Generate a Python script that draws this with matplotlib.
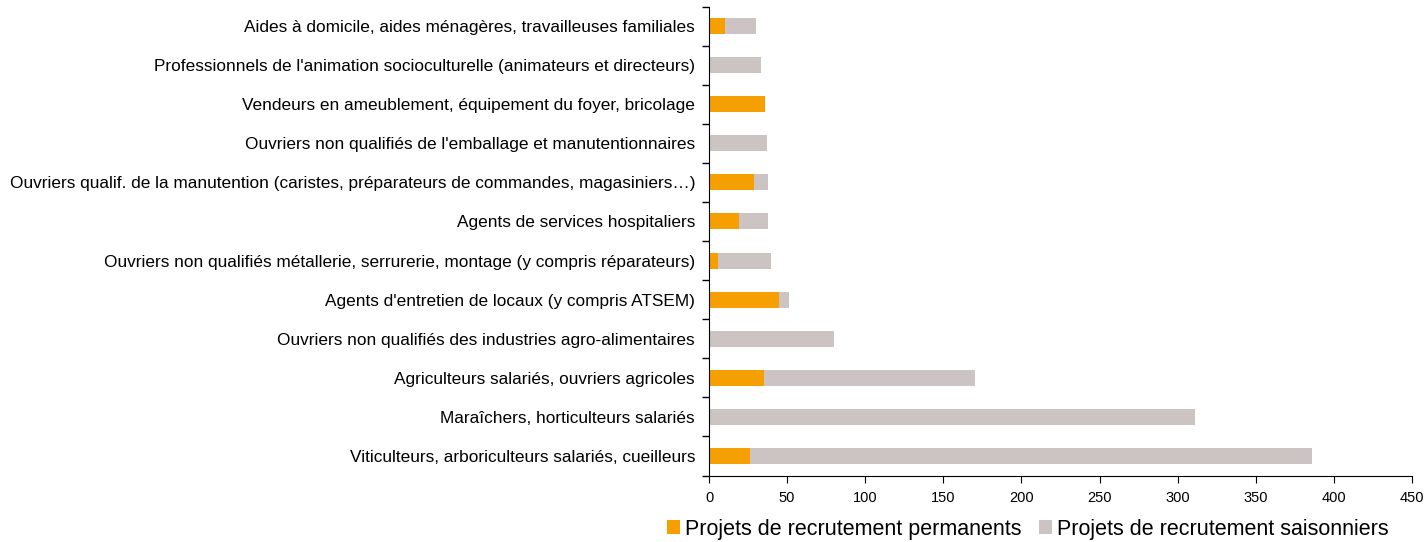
import matplotlib
matplotlib.use("Agg")
import matplotlib.pyplot as plt
import numpy as np

plt.rcParams['font.family'] = ['Liberation Sans', 'DejaVu Sans']

categories = [
    "Viticulteurs, arboriculteurs salariés, cueilleurs",
    "Maraîchers, horticulteurs salariés",
    "Agriculteurs salariés, ouvriers agricoles",
    "Ouvriers non qualifiés des industries agro-alimentaires",
    "Agents d'entretien de locaux (y compris ATSEM)",
    "Ouvriers non qualifiés métallerie, serrurerie, montage (y compris réparateurs)",
    "Agents de services hospitaliers",
    "Ouvriers qualif. de la manutention (caristes, préparateurs de commandes, magasiniers…)",
    "Ouvriers non qualifiés de l'emballage et manutentionnaires",
    "Vendeurs en ameublement, équipement du foyer, bricolage",
    "Professionnels de l'animation socioculturelle (animateurs et directeurs)",
    "Aides à domicile, aides ménagères, travailleuses familiales",
]
permanents = [26, 0, 35, 0, 45, 6, 19, 29, 0, 36, 0, 10]
saisonniers = [360, 311, 135, 80, 6, 34, 19, 9, 37, 0, 33, 20]
xticks = [0, 50, 100, 150, 200, 250, 300, 350, 400, 450]

c_perm = "#F5A000"
c_sais = "#CCC3C3"

fig = plt.figure(figsize=(14.27, 5.42), dpi=100)
ax = fig.add_axes([709/1427, 1 - 475.5/542, (1412-709)/1427, (475.5-6.5)/542])

y = np.arange(len(categories))
h = 0.41
ax.barh(y, permanents, height=h, color=c_perm, label="Projets de recrutement permanents")
ax.barh(y, saisonniers, left=permanents, height=h, color=c_sais, label="Projets de recrutement saisonniers")

ax.set_ylim(-0.5, len(categories) - 0.5)
ax.set_xlim(0, 450)
ax.set_xticks(xticks)
ax.set_xticklabels([str(v) for v in xticks], fontsize=10.5)
ax.set_yticks(y)
ax.set_yticklabels(categories, fontsize=12.4)
ax.set_yticks(np.arange(-0.5, len(categories), 1), minor=True)
ax.tick_params(axis='y', which='major', length=0, pad=10)
ax.tick_params(axis='y', which='minor', length=5, direction='out', width=1)
ax.tick_params(axis='x', which='major', length=5, direction='out', pad=6)

for s in ['top', 'right']:
    ax.spines[s].set_visible(False)
ax.spines['left'].set_color('black')
ax.spines['bottom'].set_color('black')

fig.legend(loc='lower center', bbox_to_anchor=(1028/1427, -0.012), ncol=2, frameon=False,
           fontsize=15.5, handlelength=0.6, handleheight=0.6, handletextpad=0.25, columnspacing=0.8,
           borderaxespad=0.0)

fig.savefig("out.png", dpi=100)
